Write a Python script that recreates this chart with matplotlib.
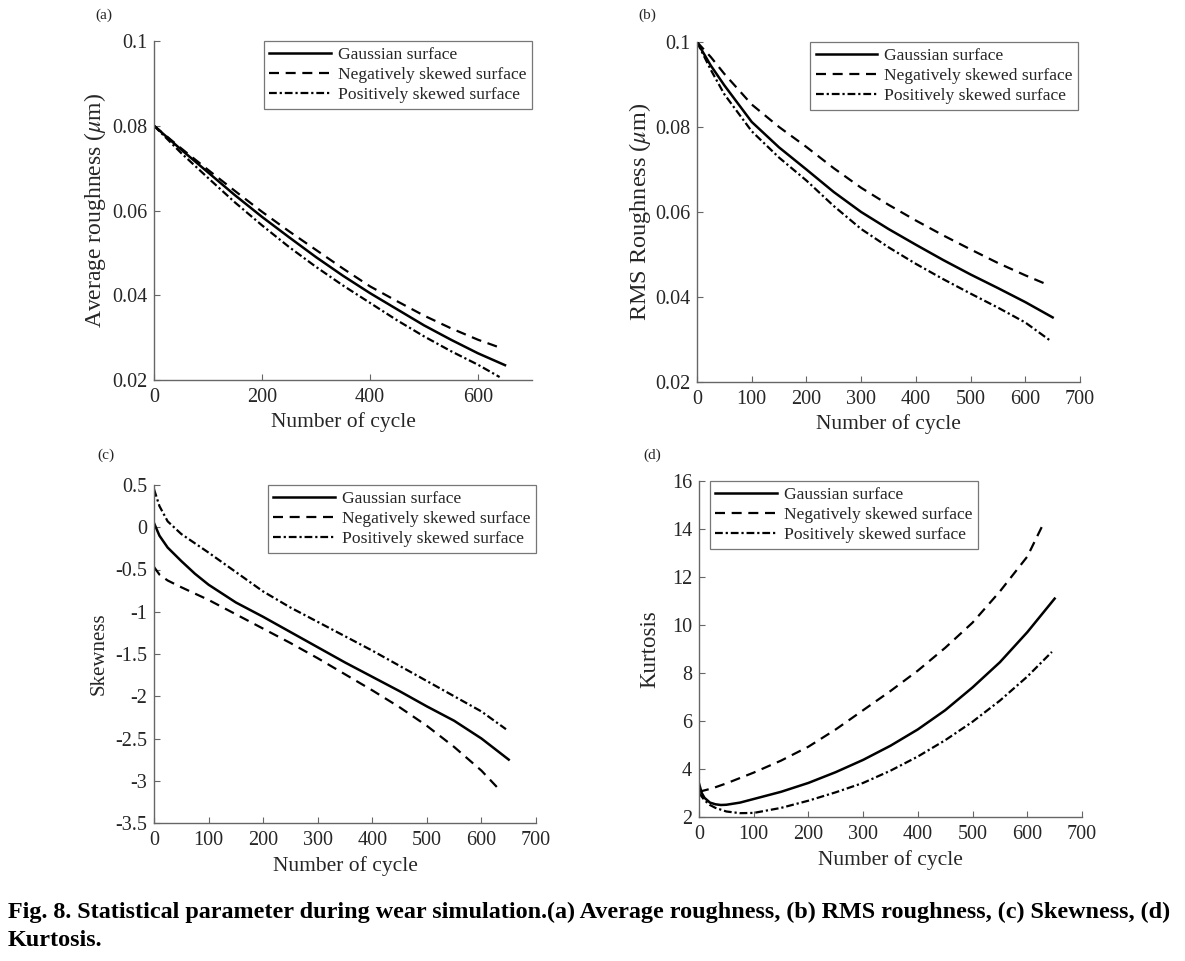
import numpy as np
import matplotlib
matplotlib.use("Agg")
import matplotlib.pyplot as plt

plt.rcParams["font.family"] = ["Liberation Serif", "DejaVu Serif"]
plt.rcParams["mathtext.fontset"] = "stix"
plt.rcParams["axes.unicode_minus"] = False

W, H = 1185, 961

labels = ["Gaussian surface", "Negatively skewed surface", "Positively skewed surface"]

# (a) average roughness
ra_gauss_x = [0, 50, 100, 150, 200, 250, 300, 350, 400, 450, 500, 550, 600, 650]
ra_gauss_y = [0.0800, 0.0744, 0.0690, 0.0636, 0.0585, 0.0537, 0.0490, 0.0446,
              0.0405, 0.0367, 0.0329, 0.0295, 0.0263, 0.0235]
ra_neg_x = [0, 50, 100, 150, 200, 250, 300, 350, 400, 450, 500, 550, 600, 635]
ra_neg_y = [0.0800, 0.0747, 0.0696, 0.0646, 0.0597, 0.0551, 0.0507, 0.0463,
            0.0421, 0.0386, 0.0352, 0.0322, 0.0295, 0.0279]
ra_pos_x = [0, 50, 100, 150, 200, 250, 300, 350, 400, 450, 500, 550, 600, 640]
ra_pos_y = [0.0800, 0.0736, 0.0677, 0.0619, 0.0565, 0.0514, 0.0467, 0.0423,
            0.0382, 0.0341, 0.0303, 0.0268, 0.0236, 0.0207]

# (b) RMS roughness
rq_gauss_x = [0, 25, 50, 100, 150, 200, 250, 300, 350, 400, 450, 500, 550, 600, 650]
rq_gauss_y = [0.100, 0.0945, 0.0898, 0.0812, 0.0752, 0.0700, 0.0647, 0.0600,
              0.0560, 0.0523, 0.0487, 0.0453, 0.0421, 0.0388, 0.0352]
rq_neg_x = [0, 25, 50, 100, 150, 200, 250, 300, 350, 400, 450, 500, 550, 600, 635]
rq_neg_y = [0.100, 0.0965, 0.0925, 0.0853, 0.0800, 0.0753, 0.0703, 0.0657,
            0.0617, 0.0580, 0.0545, 0.0512, 0.0480, 0.0451, 0.0432]
rq_pos_x = [0, 25, 50, 100, 150, 200, 250, 300, 350, 400, 450, 500, 550, 600, 645]
rq_pos_y = [0.100, 0.0935, 0.0877, 0.0790, 0.0728, 0.0674, 0.0614, 0.0560,
            0.0517, 0.0478, 0.0442, 0.0408, 0.0375, 0.0340, 0.0298]

# (c) skewness
sk_gauss_x = [0, 10, 25, 50, 75, 100, 150, 200, 250, 300, 350, 400, 450, 500, 550, 600, 650]
sk_gauss_y = [0.05, -0.10, -0.24, -0.40, -0.55, -0.68, -0.89, -1.06, -1.24, -1.42,
              -1.60, -1.77, -1.94, -2.12, -2.29, -2.50, -2.75]
sk_neg_x = [0, 10, 25, 50, 100, 150, 200, 250, 300, 350, 400, 450, 500, 550, 600, 635]
sk_neg_y = [-0.47, -0.56, -0.63, -0.71, -0.86, -1.03, -1.20, -1.37, -1.55, -1.74,
            -1.93, -2.13, -2.35, -2.60, -2.88, -3.12]
sk_pos_x = [0, 10, 25, 50, 75, 100, 150, 200, 250, 300, 350, 400, 450, 500, 550, 600, 645]
sk_pos_y = [0.45, 0.25, 0.07, -0.08, -0.19, -0.30, -0.53, -0.76, -0.95, -1.12,
            -1.29, -1.46, -1.64, -1.82, -2.00, -2.18, -2.39]

# (d) kurtosis
ku_gauss_x = [0, 5, 10, 20, 30, 40, 50, 75, 100, 150, 200, 250, 300, 350, 400,
              450, 500, 550, 600, 650]
ku_gauss_y = [3.4, 3.0, 2.8, 2.6, 2.53, 2.5, 2.51, 2.6, 2.75, 3.05, 3.42, 3.87,
              4.38, 4.97, 5.65, 6.45, 7.4, 8.45, 9.7, 11.1]
ku_neg_x = [0, 25, 50, 100, 150, 200, 250, 300, 350, 400, 450, 500, 550, 600, 630]
ku_neg_y = [3.05, 3.2, 3.4, 3.85, 4.35, 4.93, 5.65, 6.45, 7.25, 8.1, 9.05, 10.1,
            11.4, 12.85, 14.25]
ku_pos_x = [0, 10, 20, 30, 50, 75, 100, 150, 200, 250, 300, 350, 400, 450, 500,
            550, 600, 645]
ku_pos_y = [3.0, 2.7, 2.5, 2.38, 2.23, 2.16, 2.17, 2.38, 2.68, 3.03, 3.42, 3.93,
            4.52, 5.2, 5.97, 6.85, 7.85, 8.88]

styles = [
    dict(color="black", lw=1.8, ls="-"),
    dict(color="black", lw=1.6, ls=(0, (4.5, 3))),
    dict(color="black", lw=1.6, ls=(0, (3.5, 1.3, 1, 1.3))),
]


def rect(l, t, r, b):
    return [l / W, 1 - b / H, (r - l) / W, (b - t) / H]


fig = plt.figure(figsize=(W / 100, H / 100), dpi=100)

panels = [
    dict(pos=rect(154, 41, 532, 380), data=[(ra_gauss_x, ra_gauss_y), (ra_neg_x, ra_neg_y), (ra_pos_x, ra_pos_y)],
         ylim=(0.02, 0.1), yticks=[0.02, 0.04, 0.06, 0.08, 0.1], xticks=[0, 200, 400, 600],
         ylabel=r"Average roughness ($\mu$m)", ylab_size=17, tag="(a)", tagpos=(104, 15),
         ylab_x=-0.122, xlab_y=-0.094, leg_loc="upper right", leg_anchor=(1.0, 1.0)),
    dict(pos=rect(697, 42, 1080, 382), data=[(rq_gauss_x, rq_gauss_y), (rq_neg_x, rq_neg_y), (rq_pos_x, rq_pos_y)],
         ylim=(0.02, 0.1), yticks=[0.02, 0.04, 0.06, 0.08, 0.1], xticks=list(range(0, 701, 100)),
         ylabel=r"RMS Roughness ($\mu$m)", ylab_size=17.5, tag="(b)", tagpos=(647, 15),
         ylab_x=-0.115, xlab_y=-0.094, leg_loc="upper right", leg_anchor=(0.995, 1.0)),
    dict(pos=rect(154, 485, 536, 823), data=[(sk_gauss_x, sk_gauss_y), (sk_neg_x, sk_neg_y), (sk_pos_x, sk_pos_y)],
         ylim=(-3.5, 0.5), yticks=[-3.5, -3, -2.5, -2, -1.5, -1, -0.5, 0, 0.5], xticks=list(range(0, 701, 100)),
         ylabel="Skewness", ylab_size=15, tag="(c)", tagpos=(106, 455),
         ylab_x=-0.12, xlab_y=-0.098, leg_loc="upper right", leg_anchor=(1.0, 1.0)),
    dict(pos=rect(699, 481, 1082, 817), data=[(ku_gauss_x, ku_gauss_y), (ku_neg_x, ku_neg_y), (ku_pos_x, ku_pos_y)],
         ylim=(2, 16), yticks=list(range(2, 17, 2)), xticks=list(range(0, 701, 100)),
         ylabel="Kurtosis", ylab_size=16.5, tag="(d)", tagpos=(652, 455),
         ylab_x=-0.10, xlab_y=-0.098, leg_loc="upper left", leg_anchor=(0.028, 1.0)),
]

for p in panels:
    ax = fig.add_axes(p["pos"])
    for (x, y), st, lab in zip(p["data"], styles, labels):
        ax.plot(x, y, label=lab, **st)
    ax.set_xlim(0, 700)
    ax.set_ylim(*p["ylim"])
    ax.set_xticks(p["xticks"])
    ax.set_yticks(p["yticks"])
    ax.set_yticklabels(["%g" % v for v in p["yticks"]])
    for s in ["top", "right"]:
        ax.spines[s].set_visible(False)
    for s in ["left", "bottom"]:
        ax.spines[s].set_color("#666666")
        ax.spines[s].set_linewidth(1.0)
    ax.tick_params(direction="in", length=4, width=0.8, color="#666666",
                   labelsize=14.5, labelcolor="#262626")
    ax.tick_params(axis="x", pad=6)
    ax.tick_params(axis="y", pad=5)
    ax.set_xlabel("Number of cycle", fontsize=15.5, color="#262626")
    ax.set_ylabel(p["ylabel"], fontsize=p["ylab_size"], color="#262626")
    ax.xaxis.set_label_coords(0.5, p["xlab_y"])
    ax.yaxis.set_label_coords(p["ylab_x"], 0.5)
    ax.xaxis.label.set_va("top")
    leg = ax.legend(loc=p["leg_loc"], bbox_to_anchor=p["leg_anchor"], borderaxespad=0,
                    fontsize=12.6, frameon=True, fancybox=False, handlelength=3.5,
                    handletextpad=0.4, labelspacing=0.22, borderpad=0.33)
    leg.get_frame().set_edgecolor("#555555")
    leg.get_frame().set_linewidth(0.9)
    for t in leg.get_texts():
        t.set_color("#262626")
    fig.text(p["tagpos"][0] / W, 1 - p["tagpos"][1] / H, p["tag"], fontsize=11,
             ha="center", va="center", color="#262626")

fig.text(8 / W, 1 - 912 / H,
         "Fig. 8. Statistical parameter during wear simulation.(a) Average roughness, "
         "(b) RMS roughness, (c) Skewness, (d)",
         fontsize=17.4, fontweight="bold", ha="left", va="center")
fig.text(8 / W, 1 - 941 / H, "Kurtosis.", fontsize=17.4, fontweight="bold",
         ha="left", va="center")

fig.savefig("out.png", dpi=100)
